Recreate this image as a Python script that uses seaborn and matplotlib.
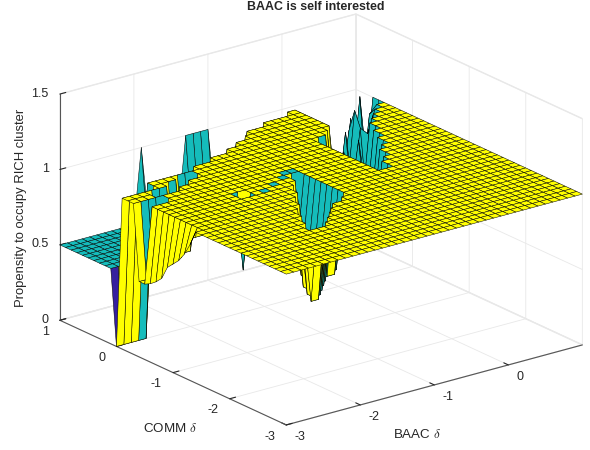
# BAAC surface, values
import numpy as np
import matplotlib
matplotlib.use('Agg')
import matplotlib.pyplot as plt
import seaborn as sns

x_vals = np.round(np.arange(-3, 1.01, 0.1), 1)
y_vals = np.round(np.arange(-3, 1.01, 0.1), 1)

# highest y of the z=1 plate in every x column
plate_top_y = [-0.1, -0.1, -0.1, -0.1, -0.1, 0.1, 0.1, 0.1, 0.1, 0.1,
               0.1, 0.1, 0.2, 0.2, 0.2, 0.3, 0.3, 0.3, 0.4, 0.4,
               0.5, 0.5, 0.6, 0.7, 0.7, 0.7, 0.8, 0.8, 0.8, 0.8,
               0.9, 0.9, 0.9, 1.0, 1.0, 1.0, 1.0, 1.0, 1.0, 1.0, 1.0]

# centre hole in the plate: column x and y range down at z=0.5
hole_x = [-1.9, -1.8, -1.7, -1.6, -1.5, -1.4, -1.3, -1.2, -1.1]
hole_lo = [-2.0, -2.0, -1.9, -1.8, -1.7, -1.6, -1.5, -1.5, -1.4]
hole_hi = [-2.0, -1.8, -1.6, -1.5, -1.3, -1.2, -1.0, -0.9, -0.7]

# right hole
gap_x = [-0.2, -0.1, 0.0, 0.1, 0.2, 0.3, 0.4, 0.5, 0.6, 0.7, 0.8, 0.9, 1.0]
gap_lo = [-1.0, -0.8, -0.7, -0.5, -0.4, -0.2, 0.0, 0.2, 0.3, 0.4, 0.5, 0.6, 0.8]
gap_hi = [0.0, 0.0, 0.1, 0.2, 1.0, 1.0, 1.0, 1.0, 1.0, 1.0, 1.0, 1.0, 1.0]

# single vertices that differ from the plate
dip_x = [-3.0, -2.9, -2.8, -2.7, -2.6, -2.7,
         -3.0, -3.0, -3.0, -3.0, -3.0, -3.0, -3.0, -3.0, -3.0,
         -3.0, -2.9, -2.8, -2.7,
         -2.6, -2.5, -2.4, -2.3, -2.2, -2.1, -2.0,
         -1.9, -2.0, -1.9, -2.0,
         -1.9, -1.3, -1.2, -1.1, -1.0,
         0.3, 0.4, 0.6, 0.6, 0.7, 0.9,
         0.5, 0.6, 0.7, 0.8]
dip_y = [0.0, 0.0, 0.0, 0.0, 0.0, -0.1,
         -0.5, -0.6, -0.7, -0.8, -0.9, -1.0, -1.1, -1.2, -1.3,
         -0.4, -0.4, -0.4, -0.4,
         -0.2, -0.2, -0.2, -0.1, -0.1, 0.0, 0.0,
         -0.8, -0.9, -0.9, -0.8,
         1.0, 1.0, 1.0, 1.0, 1.0,
         0.3, 0.4, 0.5, 0.6, 0.7, 0.8,
         0.3, 0.4, 0.4, 0.5]
dip_z = [0.0, 0.0, 0.0, 0.0, 0.0, 1.0,
         0.5, 0.52, 0.55, 0.59, 0.68, 0.72, 0.76, 0.82, 0.9,
         0.5, 0.5, 0.5, 0.5,
         0.5, 0.5, 0.5, 0.5, 0.5, 0.5, 0.5,
         0.5, 1.0, 1.0, 1.0,
         1.0, 1.0, 1.0, 1.0, 1.0,
         0.8, 0.9, 1.0, 0.85, 0.9, 1.0,
         0.85, 0.9, 0.85, 0.95]
dip_c = [0.0, 1.0, 1.0, 1.0, 0.5, 0.5,
         1.0, 1.0, 1.0, 1.0, 1.0, 1.0, 1.0, 1.0, 1.0,
         1.0, 0.5, 0.5, 0.5,
         0.5, 0.5, 0.5, 0.5, 0.5, 0.5, 0.5,
         1.0, 0.5, 0.5, 0.5,
         0.5, 0.5, 0.5, 0.5, 0.5,
         0.5, 0.5, 0.5, 0.5, 0.5, 0.5,
         0.5, 0.5, 0.5, 0.5]

# flat teal cells on the plate
spot_x = [-1.7, -1.5, -1.3, -1.2, -1.1, -0.3]
spot_y = [-0.9, -0.8, -0.7, -0.6, -0.6, -1.1]

z_ticks = [0, 0.5, 1, 1.5]
z_tick_labels = ['0', '0.5', '1', '1.5']
x_ticks = [-3, -2, -1, 0]
y_ticks = [-3, -2, -1, 0, 1]


def col(v):
    return int(round((v + 3) * 10))


X, Y = np.meshgrid(x_vals, y_vals)
Z = np.full(X.shape, 0.5)
for j, top in enumerate(plate_top_y):
    Z[y_vals <= top, j] = 1.0
for hx, lo, hi in zip(hole_x + gap_x, hole_lo + gap_lo, hole_hi + gap_hi):
    Z[(y_vals >= lo) & (y_vals <= hi), col(hx)] = 0.5
C = Z.copy()
# cells falling away at the plate's edge by the right hole are seen teal
for gx, lo in zip(gap_x, gap_lo):
    C[col(lo) - 1, col(gx)] = 0.5
for dx, dy, dz, dc in zip(dip_x, dip_y, dip_z, dip_c):
    Z[col(dy), col(dx)] = dz
    C[col(dy), col(dx)] = dc
for sx, sy in zip(spot_x, spot_y):
    C[col(sy), col(sx)] = 0.5

sns.set_style('white')
plt.rcParams['font.family'] = ['Liberation Sans', 'DejaVu Sans']
plt.rcParams['mathtext.fontset'] = 'cm'
plt.rcParams['axes.unicode_minus'] = False

parula = sns.blend_palette(['#35209f', '#14bcbc', '#ffff00'], n_colors=256, as_cmap=True)

fig = plt.figure(figsize=(5.9, 4.5), dpi=100)
ax = fig.add_axes([32 / 590, -58.6 / 450, 563 / 590, 563 / 450], projection='3d')
ax.set_proj_type('ortho')
ax.view_init(elev=20.7, azim=-127.4)
ax.set_box_aspect((373, 373, 242))

ax.plot_surface(X, Y, Z, facecolors=parula(C), rstride=1, cstride=1, shade=False,
                edgecolor='k', linewidth=0.35)

ax.set_xlim(-3, 1, view_margin=0)
ax.set_ylim(-3, 1, view_margin=0)
ax.set_zlim(0, 1.5, view_margin=0)
ax.set_xticks(x_ticks)
ax.set_yticks(y_ticks)
ax.set_zticks(z_ticks)
ax.set_zticklabels(z_tick_labels)
ax.tick_params(labelsize=9, colors='#262626', pad=0)
ax.zaxis.set_tick_params(pad=-3.5)

for axis in [ax.xaxis, ax.yaxis, ax.zaxis]:
    axis.set_pane_color((1, 1, 1, 1))
    axis.pane.set_edgecolor('#e8e8e8')
    axis.line.set_color('#555555')
    axis.line.set_linewidth(0.8)
    axis._axinfo['grid']['color'] = '#e8e8e8'
    axis._axinfo['grid']['linewidth'] = 0.6
    axis._axinfo['tick']['outward_factor'] = 0.25
    axis._axinfo['tick']['inward_factor'] = 0.0

for t in ax.xaxis.get_major_ticks():
    t.label1.set_ha('left')
    t.label1.set_va('center')
for t in ax.yaxis.get_major_ticks():
    t.label1.set_ha('right')
    t.label1.set_va('center')
for t in ax.zaxis.get_major_ticks():
    t.label1.set_ha('right')
    t.label1.set_va('center')

fig.text(316 / 590, 1 - 1 / 450, 'BAAC is self interested', ha='center', va='top',
         fontsize=8.9, fontweight='bold')
fig.text(170 / 590, 1 - 428 / 450, r'COMM $\delta$', ha='center', va='center', fontsize=9.6, color='#262626')
fig.text(417 / 590, 1 - 435 / 450, r'BAAC $\delta$', ha='center', va='center', fontsize=9.6, color='#262626')
fig.text(21 / 590, 1 - 208 / 450, 'Propensity to occupy RICH cluster', rotation=90, ha='center', va='center',
         fontsize=9.4, color='#262626')

fig.savefig('out.png', dpi=100)
